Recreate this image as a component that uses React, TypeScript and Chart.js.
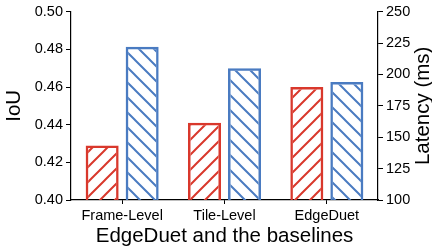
import { useEffect, useRef } from 'react';
import { Chart, registerables } from 'chart.js';

Chart.register(...registerables);

const categories = ['Frame-Level', 'Tile-Level', 'EdgeDuet'];
const iouValues = [0.429, 0.441, 0.46];
const latencyValues = [222, 205, 194];
const iouTicks = [0.4, 0.42, 0.44, 0.46, 0.48, 0.5];
const latencyTicks = [100, 125, 150, 175, 200, 225, 250];
const xTitle = 'EdgeDuet and the baselines';
const leftTitle = 'IoU';
const rightTitle = 'Latency (ms)';

const RED = '#d9382c';
const BLUE = '#4a7bc1';
const FONT = '"Liberation Sans", Arial, sans-serif';

function makeHatch(color: string, dir: '/' | '\\') {
  const s = 15;
  const c = document.createElement('canvas');
  c.width = s;
  c.height = s;
  const g = c.getContext('2d')!;
  g.strokeStyle = color;
  g.lineWidth = 2;
  g.beginPath();
  for (const o of [-s, 0, s]) {
    if (dir === '/') {
      g.moveTo(o - 1, s + 1);
      g.lineTo(o + s + 1, -1);
    } else {
      g.moveTo(o - 1, -1);
      g.lineTo(o + s + 1, s + 1);
    }
  }
  g.stroke();
  return g.createPattern(c, 'repeat')!;
}

const titlesPlugin = {
  id: 'axisTitles',
  afterDraw(chart: any) {
    const { ctx, chartArea } = chart;
    ctx.save();
    ctx.fillStyle = '#000';
    ctx.font = `20.5px ${FONT}`;
    ctx.textAlign = 'center';
    ctx.textBaseline = 'middle';
    const cy = (chartArea.top + chartArea.bottom) / 2;
    ctx.fillText(xTitle, (chartArea.left + chartArea.right) / 2, chartArea.bottom + 36);
    ctx.save();
    ctx.translate(14, cy);
    ctx.rotate(-Math.PI / 2);
    ctx.fillText(leftTitle, 0, 0);
    ctx.restore();
    ctx.save();
    ctx.translate(chartArea.right + 45, cy);
    ctx.rotate(-Math.PI / 2);
    ctx.fillText(rightTitle, 0, 0);
    ctx.restore();
    ctx.restore();
  },
};

export default function App() {
  const ref = useRef<HTMLCanvasElement>(null);
  useEffect(() => {
    document.body.style.margin = '0';
    const canvas = ref.current!;
    const tickFont = { family: FONT, size: 14.5 };
    const chart = new Chart(canvas, {
      type: 'bar',
      data: {
        labels: categories,
        datasets: [
          {
            label: 'IoU',
            data: iouValues,
            yAxisID: 'y',
            backgroundColor: makeHatch(RED, '/'),
            borderColor: RED,
            borderWidth: 2.5,
            categoryPercentage: 0.782,
            barPercentage: 0.825,
          },
          {
            label: 'Latency',
            data: latencyValues,
            yAxisID: 'y1',
            backgroundColor: makeHatch(BLUE, '\\'),
            borderColor: BLUE,
            borderWidth: 2.5,
            categoryPercentage: 0.782,
            barPercentage: 0.825,
          },
        ],
      },
      options: {
        responsive: false,
        animation: false,
        layout: { padding: { top: 7, left: 0, right: 0, bottom: 0 } },
        plugins: { legend: { display: false }, tooltip: { enabled: false } },
        scales: {
          x: {
            offset: true,
            grid: { display: true, offset: false, drawOnChartArea: false, drawTicks: true, tickLength: 4, color: '#000' },
            border: { display: true, color: '#000', width: 1.2 },
            ticks: { color: '#000', font: tickFont, padding: 3, maxRotation: 0 },
            afterFit: (s: any) => { s.height = 50; },
          },
          y: {
            position: 'left',
            min: 0.4,
            max: 0.5,
            afterBuildTicks: (s: any) => { s.ticks = iouTicks.map((v) => ({ value: v })); },
            grid: { display: true, drawOnChartArea: false, drawTicks: true, tickLength: 5, color: '#000' },
            border: { display: true, color: '#000', width: 1.2 },
            ticks: { color: '#000', font: tickFont, padding: 3, callback: (v: any) => Number(v).toFixed(2) },
            afterFit: (s: any) => { s.width = 71; },
          },
          y1: {
            position: 'right',
            min: 100,
            max: 250,
            afterBuildTicks: (s: any) => { s.ticks = latencyTicks.map((v) => ({ value: v })); },
            grid: { display: true, drawOnChartArea: false, drawTicks: true, tickLength: 5, color: '#000' },
            border: { display: true, color: '#000', width: 1.2 },
            ticks: { color: '#000', font: tickFont, padding: 3, callback: (v: any) => String(v) },
            afterFit: (s: any) => { s.width = 54; },
          },
        },
      },
      plugins: [titlesPlugin],
    });
    return () => chart.destroy();
  }, []);
  return (
    <div style={{ width: 432, height: 250 }}>
      <canvas ref={ref} width={432} height={250} style={{ display: 'block' }} />
    </div>
  );
}
